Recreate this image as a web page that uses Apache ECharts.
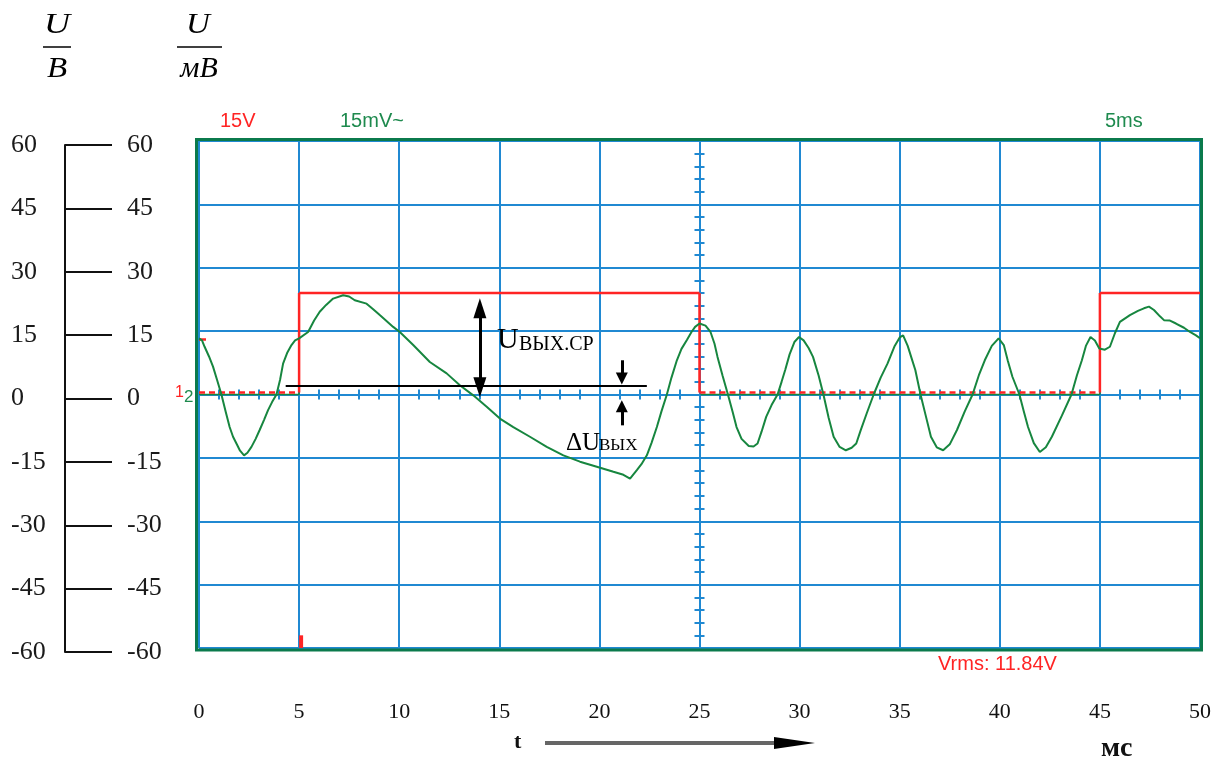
<!DOCTYPE html>
<html>
<head>
<meta charset="utf-8">
<script src="https://cdn.jsdelivr.net/npm/echarts@6/dist/echarts.min.js"></script>
<style>html,body{margin:0;padding:0;background:#fff;}#c{width:1224px;height:762px;}</style>
</head>
<body>
<div id="c"></div>
<script>
// ---- data ----
const timeTicks = [0, 5, 10, 15, 20, 25, 30, 35, 40, 45, 50];
const levelTicks = [-60, -45, -30, -15, 0, 15, 30, 45, 60];

// green trace: output voltage, mV (15 mV/div)
const greenT = [0, 0.15, 0.28, 0.5, 0.7, 0.9, 1.12, 1.33, 1.53, 1.7, 1.87, 2.05, 2.25, 2.42, 2.62, 2.83,
  3.03, 3.25, 3.45, 3.65, 3.87, 4.05, 4.2, 4.4, 4.62, 4.8, 5.0,
  5.45, 5.75, 6.03, 6.35, 6.7, 7.2, 7.5, 7.78, 8.37, 8.7, 9.03, 9.7, 10.03, 10.7, 11.53, 12.37, 13.03,
  13.7, 14.37, 15.03, 15.7, 16.53, 17.37, 18.2, 19.03, 19.87, 20.7, 21.2, 21.53, 21.87, 22.1, 22.37,
  22.6, 22.87, 23.1, 23.37, 23.6, 23.87, 24.1, 24.37, 24.6, 24.78, 25.0,
  25.3, 25.55, 25.75, 25.9, 26.15, 26.42, 26.65, 26.85, 27.1, 27.46, 27.7, 27.9, 28.1, 28.33, 28.6, 28.9,
  29.1, 29.28, 29.5, 29.75, 29.97, 30.2, 30.45, 30.67, 30.95, 31.19, 31.45, 31.7, 32.0, 32.31, 32.6, 32.83,
  33.05, 33.35, 33.7, 34.05, 34.39, 34.75, 35.0, 35.17, 35.4, 35.6, 35.78, 36.04, 36.3, 36.56, 36.85, 37.17,
  37.5, 37.86, 38.25, 38.64, 38.95, 39.25, 39.6, 39.94, 40.2, 40.4, 40.63, 40.98, 41.2, 41.41, 41.7, 42.0,
  42.3, 42.6, 43.1, 43.58, 43.85, 44.1, 44.3, 44.53, 44.75, 44.97, 45.05, 45.25, 45.5, 45.75, 46.0, 46.5,
  46.9, 47.2, 47.45, 47.7, 48.0, 48.2, 48.5, 48.8, 49.2, 49.5, 49.8, 50];
const greenV = [13.3, 12.8, 11.3, 9.0, 6.6, 3.5, 0, -4, -7.7, -10, -11.6, -13.3, -14.4, -13.8, -12.4, -10.5,
  -8.4, -6, -3.7, -1.8, 0, 3.5, 7.3, 9.8, 11.7, 12.8, 13.3,
  14.8, 17.5, 19.6, 21.2, 22.7, 23.5, 23.2, 22.3, 21.5, 20.2, 18.8, 16, 14.8, 11.7, 7.7, 5, 2.2,
  -0.2, -2.9, -5.7, -7.7, -10, -12.4, -14.4, -15.9, -17.1, -18.3, -19, -19.9, -17.9, -16.5, -14.4,
  -11.5, -7.7, -4, 0, 4, 8.1, 10.8, 12.9, 14.8, 16, 16.8,
  16.3, 14.8, 12, 8.9, 4.5, 0, -4, -7.7, -10.5, -12.2, -12.3, -11.6, -8.8, -5.3, -2.5, 0,
  3, 5.8, 9.5, 12.5, 13.6, 12.8, 11, 8.9, 4.5, 0, -5.5, -10, -12.4, -13.2, -12.6, -11.6,
  -8.5, -4.5, 0, 4, 7.3, 11.5, 13.5, 14, 11.5, 8.5, 5.8, 0, -5, -10, -12.5, -13.2,
  -11.8, -8.4, -4, 0, 4.5, 8.1, 11.5, 13.3, 11.7, 8, 4.2, 0, -4, -7.7, -11.5, -13.6,
  -12.5, -10, -5, 0, 4.5, 8.1, 11.5, 13.6, 12.8, 10.9, 10.5, 10.6, 11.3, 14.5, 17.2, 18.8,
  19.8, 20.4, 20.8, 20, 18.5, 17.6, 17.5, 16.8, 15.8, 14.8, 14, 13.3];

// red trace: input square wave, V (15 V/div); null separates pieces
const redT = [0, 0.35, null, 0, 5, 5, 25, 25, 45, 45, 50];
const redV = [13, 13, null, 0.5, 0.5, 24, 24, 0.5, 0.5, 24, 24];
const trigT = [5.1, 5.1];
const trigV = [-60, -57];

// green channel reference segments
const refT = [0, 5, 5, null, 25.05, 45, 45];
const refV = [0, 0, 13, null, 0, 0, 10.5];

// annotations
const meanLineT = [4.33, 22.37];
const meanLineV = [2, 2];
const bigArrowT = 14.03, bigArrowV = [1.7, 20.4];
const dArrowT = 21.12, dArrowUp = [8.1, 3.8], dArrowDown = [-7.3, -2.8];

// ---- build ----
const GAP = [NaN, '-'];
const zip = (a, b) => a.map((x, i) => (x === null ? GAP : [x, b[i]]));
const redSolid = [], redDash = [];
for (let i = 0; i < redT.length - 1; i++) {
  if (redT[i] === null || redT[i + 1] === null) continue;
  const low = redV[i] === redV[i + 1] && redV[i] < 5;
  const tgt = low ? redDash : redSolid;
  if (tgt.length) tgt.push(GAP);
  tgt.push([redT[i], redV[i]], [redT[i + 1], redV[i + 1]]);
}

const BLUE = '#2089d2', GREEN = '#17863f', RED = '#ff2424', FRAME = '#0b7a4c';
const serif = '"Liberation Serif", "Times New Roman", serif';
const sans = '"Liberation Sans", Arial, sans-serif';

const chart = echarts.init(document.getElementById('c'));
const G = { left: 199, top: 141, width: 1001, height: 507 };

const tickAxisX = (inside) => ({
  gridIndex: 0, type: 'value', min: 0, max: 50, interval: 1, position: 'bottom',
  axisLine: { show: true, onZero: true, onZeroAxisIndex: 0, lineStyle: { color: BLUE, width: 2 } },
  axisTick: { show: true, inside: inside, length: 5, lineStyle: { color: BLUE, width: 2 } },
  axisLabel: { show: false }, splitLine: { show: false }
});
const tickAxisY = (inside) => ({
  gridIndex: 0, type: 'value', min: -60, max: 60, interval: 3, position: 'left', offset: -500.5,
  axisLine: { show: true, onZero: false, lineStyle: { color: BLUE, width: 2 } },
  axisTick: { show: true, inside: inside, length: 5, lineStyle: { color: BLUE, width: 2 } },
  axisLabel: { show: false }, splitLine: { show: false }
});

const option = {
  animation: false,
  backgroundColor: '#fff',
  grid: [
    { left: G.left, top: G.top, width: G.width, height: G.height, show: false },
    { left: 65, top: 145, width: 47, height: 507, show: false }
  ],
  xAxis: [
    { gridIndex: 0, type: 'value', min: 0, max: 50, interval: 5,
      axisLine: { show: false, onZero: false }, axisTick: { show: false },
      axisLabel: { show: true, margin: 64, verticalAlign: 'middle', fontFamily: serif, fontSize: 22, color: '#111',
        customValues: timeTicks },
      splitLine: { show: true, lineStyle: { color: BLUE, width: 2 } } },
    tickAxisX(true),
    tickAxisX(false),
    { gridIndex: 1, type: 'value', min: 0, max: 1, show: false }
  ],
  yAxis: [
    { gridIndex: 0, type: 'value', min: -60, max: 60, interval: 15,
      axisLine: { show: false }, axisTick: { show: false }, axisLabel: { show: false },
      splitLine: { show: true, lineStyle: { color: BLUE, width: 2 } } },
    tickAxisY(true),
    tickAxisY(false),
    { gridIndex: 1, type: 'value', min: -60, max: 60, interval: 15, position: 'left',
      axisLine: { show: true, onZero: false, lineStyle: { color: '#111', width: 2 } },
      axisTick: { show: false },
      axisLabel: { show: true, align: 'left', margin: 54, fontFamily: serif, fontSize: 26, color: '#1a1a1a',
        customValues: levelTicks },
      splitLine: { show: true, lineStyle: { color: '#111', width: 2 } } },
    { gridIndex: 1, type: 'value', min: -60, max: 60, interval: 15, position: 'right',
      axisLine: { show: false }, axisTick: { show: false },
      axisLabel: { show: true, align: 'left', margin: 15, fontFamily: serif, fontSize: 26, color: '#1a1a1a',
        customValues: levelTicks },
      splitLine: { show: false } }
  ],
  series: [
    { name: 'ref', type: 'line', xAxisIndex: 0, yAxisIndex: 0, data: zip(refT, refV), symbol: 'none',
      lineStyle: { color: GREEN, width: 1.5 }, silent: true, z: 3 },
    { name: 'redSolid', type: 'line', xAxisIndex: 0, yAxisIndex: 0, data: redSolid, symbol: 'none',
      lineStyle: { color: RED, width: 2.5 }, silent: true, z: 4 },
    { name: 'redDash', type: 'line', xAxisIndex: 0, yAxisIndex: 0, data: redDash, symbol: 'none',
      lineStyle: { color: RED, width: 2.5, type: [6, 4] }, silent: true, z: 4 },
    { name: 'trig', type: 'line', xAxisIndex: 0, yAxisIndex: 0, data: zip(trigT, trigV), symbol: 'none',
      lineStyle: { color: RED, width: 4 }, silent: true, z: 4 },
    { name: 'green', type: 'line', xAxisIndex: 0, yAxisIndex: 0, data: zip(greenT, greenV), symbol: 'none',
      lineStyle: { color: GREEN, width: 2 }, silent: true, z: 5 },
    { name: 'mean', type: 'line', xAxisIndex: 0, yAxisIndex: 0, data: zip(meanLineT, meanLineV), symbol: 'none',
      lineStyle: { color: '#000', width: 2 }, silent: true, z: 6,
      markLine: {
        silent: true, animation: false, label: { show: false }, emphasis: { disabled: true },
        data: [
          [{ coord: [bigArrowT, bigArrowV[0]], symbol: 'triangle', symbolSize: [13, 20] },
           { coord: [bigArrowT, bigArrowV[1]], symbol: 'triangle', symbolSize: [13, 20] }],
          [{ coord: [dArrowT, dArrowUp[0]], symbol: 'none' },
           { coord: [dArrowT, dArrowUp[1]], symbol: 'triangle', symbolSize: [12, 12] }],
          [{ coord: [dArrowT, dArrowDown[0]], symbol: 'none' },
           { coord: [dArrowT, dArrowDown[1]], symbol: 'triangle', symbolSize: [12, 12] }]
        ],
        lineStyle: { color: '#000', width: 3, type: 'solid' }
      } }
  ],
  graphic: [
    { type: 'rect', z: 50, silent: true, shape: { x: 196.5, y: 139.5, width: 1005, height: 510.5 },
      style: { fill: 'none', stroke: FRAME, lineWidth: 3 } },
    // unit fractions
    { type: 'text', x: 57, y: 25, scaleX: 1.2, style: { text: 'U', font: 'italic 30px ' + serif, fill: '#000', align: 'center', verticalAlign: 'middle' } },
    { type: 'line', shape: { x1: 43, y1: 47, x2: 71, y2: 47 }, style: { stroke: '#000', lineWidth: 1.5 } },
    { type: 'text', x: 57, y: 69, scaleX: 1.1, style: { text: 'В', font: 'italic 30px ' + serif, fill: '#000', align: 'center', verticalAlign: 'middle' } },
    { type: 'text', x: 198, y: 25, scaleX: 1.1, style: { text: 'U', font: 'italic 30px ' + serif, fill: '#000', align: 'center', verticalAlign: 'middle' } },
    { type: 'line', shape: { x1: 177, y1: 47, x2: 222, y2: 47 }, style: { stroke: '#000', lineWidth: 1.5 } },
    { type: 'text', x: 199, y: 69, style: { text: 'мВ', font: 'italic 30px ' + serif, fill: '#000', align: 'center', verticalAlign: 'middle' } },
    // scope labels
    { type: 'text', x: 220, y: 121, style: { text: '15V', font: '20px ' + sans, fill: RED, verticalAlign: 'middle' } },
    { type: 'text', x: 340, y: 121, style: { text: '15mV~', font: '20px ' + sans, fill: '#1e8a4e', verticalAlign: 'middle' } },
    { type: 'text', x: 1105, y: 121, style: { text: '5ms', font: '20px ' + sans, fill: '#1e8a4e', verticalAlign: 'middle' } },
    { type: 'text', x: 938, y: 664, style: { text: 'Vrms: 11.84V', font: '20px ' + sans, fill: RED, verticalAlign: 'middle' } },
    { type: 'text', x: 175, y: 393, style: { text: '1', font: '16px ' + sans, fill: RED, verticalAlign: 'middle' } },
    { type: 'text', x: 184, y: 397, style: { text: '2', font: '17px ' + sans, fill: '#1e8a4e', verticalAlign: 'middle' } },
    // annotations
    { type: 'text', z: 60, x: 497, y: 340, style: { text: 'U', font: '30px ' + serif, fill: '#000', verticalAlign: 'middle' } },
    { type: 'text', z: 60, x: 519, y: 344.5, style: { text: 'ВЫХ.СР', font: '20px ' + serif, fill: '#000', verticalAlign: 'middle' } },
    { type: 'text', z: 60, x: 566, y: 443.5, style: { text: 'ΔU', font: '25px ' + serif, fill: '#000', verticalAlign: 'middle' } },
    { type: 'text', z: 60, x: 599, y: 446, style: { text: 'ВЫХ', font: '17px ' + serif, fill: '#000', verticalAlign: 'middle' } },
    // time arrow
    { type: 'text', x: 514, y: 742, style: { text: 't', font: 'bold 22px ' + serif, fill: '#111', verticalAlign: 'middle' } },
    { type: 'line', shape: { x1: 545, y1: 743, x2: 780, y2: 743 }, style: { stroke: '#666', lineWidth: 4 } },
    { type: 'polygon', shape: { points: [[774, 737], [815, 743], [774, 749]] }, style: { fill: '#000' } },
    { type: 'text', x: 1101, y: 748.5, style: { text: 'мс', font: 'bold 28px ' + serif, fill: '#111', verticalAlign: 'middle' } }
  ]
};
chart.setOption(option);
</script>
</body>
</html>
